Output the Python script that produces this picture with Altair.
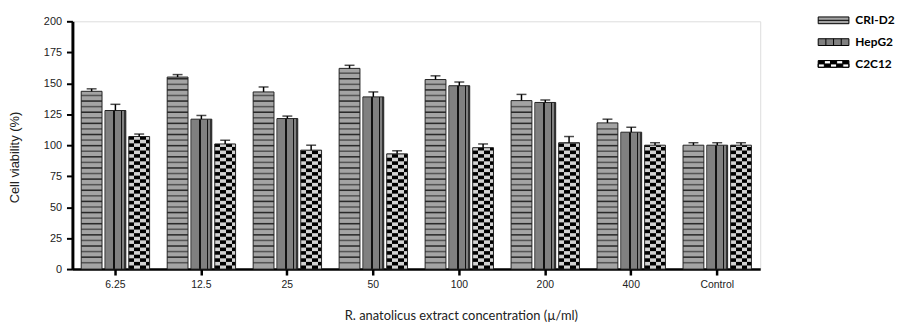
import altair as alt
import pandas as pd

categories = ["6.25", "12.5", "25", "50", "100", "200", "400", "Control"]
series = ["CRI-D2", "HepG2", "C2C12"]
cri = [143.5, 155, 143, 162, 153, 136, 118, 100]
cri_err = [2, 2, 4, 2.5, 3, 5, 3, 2]
hep = [128, 121, 121.5, 139, 148, 134.5, 110.5, 100]
hep_err = [5, 3, 2, 4, 3, 2, 4, 2]
c2c = [107, 101, 96, 93, 98, 102, 100, 100]
c2c_err = [2, 3, 4, 2.5, 3, 5, 2, 2]

rows = []
for s, vals, errs in [("CRI-D2", cri, cri_err), ("HepG2", hep, hep_err), ("C2C12", c2c, c2c_err)]:
    for c, v, e in zip(categories, vals, errs):
        rows.append({"cat": c, "series": s, "value": v, "hi": v + e})
df = pd.DataFrame(rows)

# pattern helpers derived from the bar values
STRIPE = 4.5
THICK = 1.25
stripes = []
for c, v in zip(categories, cri):
    k = 1
    while k * STRIPE + THICK < v - 0.5:
        stripes.append({"cat": c, "series": "CRI-D2", "y0": k * STRIPE, "y1": k * STRIPE + THICK, "par": k % 2})
        k += 1
df_str = pd.DataFrame(stripes)

CELL = 2.9
checks = []
for c, v in zip(categories, c2c):
    k = 0
    while k * CELL < v:
        checks.append({"cat": c, "series": "C2C12", "y0": k * CELL, "y1": min((k + 1) * CELL, v), "par": k % 2})
        k += 1
df_chk = pd.DataFrame(checks)

FONT = "Liberation Sans"
xsc = alt.Scale(domain=categories, paddingInner=0.17, paddingOuter=0.085)
osc = alt.Scale(domain=series, paddingInner=0.125, paddingOuter=0.0625)
ysc = alt.Scale(domain=[0, 200], nice=False)

X = alt.X("cat:N", scale=xsc, sort=categories,
          axis=alt.Axis(title="R. anatolicus extract concentration (µ/ml)", labelAngle=0,
                        labelFont=FONT, labelFontSize=10.5, labelColor="#222", labelPadding=5,
                        tickSize=6, tickWidth=2.5, tickColor="black", domainWidth=2.5, domainColor="black",
                        titleFont="Lato", titleFontSize=13, titleFontWeight="normal", titleColor="#222",
                        titleX=392, titleY=51, titleBaseline="alphabetic", titleAnchor="middle", titleAlign="center"))
XO = alt.XOffset("series:N", scale=osc)
yaxis = alt.Axis(title="Cell viability (%)", values=list(range(0, 201, 25)), tickCount=9, grid=False,
                 labelOverlap=False, labelFont=FONT, labelFontSize=11, labelColor="#222", labelPadding=5,
                 tickSize=6, tickWidth=2, tickColor="black", domainWidth=3, domainColor="black",
                 titleFont=FONT, titleFontSize=13, titleFontWeight="normal", titleColor="#222",
                 titleX=-58, titleY=137, titleBaseline="middle", titleAlign="center", titleAngle=-90)
Y = alt.Y("value:Q", scale=ysc, axis=yaxis)
Y0 = alt.Y("y0:Q", scale=ysc, axis=yaxis)
YH = alt.Y("hi:Q", scale=ysc, axis=yaxis)

base = alt.Chart(df)

cri_bar = base.transform_filter(alt.datum.series == "CRI-D2").mark_bar(fill="#a4a4a4").encode(x=X, xOffset=XO, y=Y)
cri_str0 = alt.Chart(df_str).transform_filter(alt.datum.par == 0).mark_bar(fill="#2a2a2a").encode(
    x=X, xOffset=XO, y=Y0, y2="y1:Q")
cri_str1 = alt.Chart(df_str).transform_filter(alt.datum.par == 1).mark_bar(fill="#555555").encode(
    x=X, xOffset=XO, y=Y0, y2="y1:Q")

hep_grad = alt.LinearGradient(gradient="linear", x1=0, x2=1, y1=0, y2=0, stops=[
    alt.GradientStop(color="#9a9a9a", offset=0.0),
    alt.GradientStop(color="#9a9a9a", offset=0.06),
    alt.GradientStop(color="#808080", offset=0.06),
    alt.GradientStop(color="#808080", offset=0.40),
    alt.GradientStop(color="#111111", offset=0.40),
    alt.GradientStop(color="#111111", offset=0.47),
    alt.GradientStop(color="#808080", offset=0.47),
    alt.GradientStop(color="#808080", offset=0.76),
    alt.GradientStop(color="#111111", offset=0.76),
    alt.GradientStop(color="#111111", offset=0.83),
    alt.GradientStop(color="#808080", offset=0.83),
    alt.GradientStop(color="#808080", offset=0.90),
    alt.GradientStop(color="#333333", offset=0.90),
    alt.GradientStop(color="#333333", offset=1.0),
])
hep_bar = base.transform_filter(alt.datum.series == "HepG2").mark_bar(fill=hep_grad).encode(x=X, xOffset=XO, y=Y)

c2c_bar = base.transform_filter(alt.datum.series == "C2C12").mark_bar(fill="#d2d2d2").encode(x=X, xOffset=XO, y=Y)


def checker(phase):
    cuts = [0.0, 0.27, 0.54, 0.81, 1.0]
    stops = []
    for i in range(4):
        col = "#000000" if (i + phase) % 2 == 0 else "rgba(0,0,0,0)"
        stops.append(alt.GradientStop(color=col, offset=cuts[i]))
        stops.append(alt.GradientStop(color=col, offset=cuts[i + 1]))
    return alt.LinearGradient(gradient="linear", x1=0, x2=1, y1=0, y2=0, stops=stops)


chk0 = alt.Chart(df_chk).transform_filter(alt.datum.par == 0).mark_bar(fill=checker(0)).encode(
    x=X, xOffset=XO, y=Y0, y2="y1:Q")
chk1 = alt.Chart(df_chk).transform_filter(alt.datum.par == 1).mark_bar(fill=checker(1)).encode(
    x=X, xOffset=XO, y=Y0, y2="y1:Q")

outline = base.mark_bar(fillOpacity=0, stroke="#222222", strokeWidth=1).encode(x=X, xOffset=XO, y=Y)

err = base.mark_rule(color="black", strokeWidth=1.5).encode(x=X, xOffset=XO, y=Y, y2="hi:Q")
cap = base.mark_tick(color="black", size=10, thickness=1.5).encode(x=X, xOffset=XO, y=YH)

paths = [
    "M-1,-0.22H1V0.22H-1Z M-1,0H1",
    "M-1,-0.22H1V0.22H-1Z M-0.5,-0.22V0.22 M0,-0.22V0.22 M0.5,-0.22V0.22",
    "M-1,-0.22H1V0.22H-1Z M-0.6,-0.22V0H-0.2V-0.22Z M0.2,-0.22V0H0.6V-0.22Z "
    "M-1,0V0.22H-0.6V0Z M-0.2,0V0.22H0.2V0Z M0.6,0V0.22H1V0Z",
]
leg = alt.Legend(title=None, orient="none", legendX=752, legendY=-17, symbolSize=961,
                 symbolStrokeColor="black", symbolStrokeWidth=1,
                 labelFont="Lato", labelFontSize=12, labelFontWeight="bold", labelColor="black",
                 labelOffset=6, rowPadding=-9)
legend_layer = alt.Chart(pd.DataFrame({"series": series})).mark_point(
    filled=True, stroke="black", strokeWidth=1, opacity=1).encode(
    x=alt.value(-600), y=alt.value(-600),
    color=alt.Color("series:N", scale=alt.Scale(domain=series, range=["#a4a4a4", "#808080", "#000000"]), legend=leg),
    shape=alt.Shape("series:N", scale=alt.Scale(domain=series, range=paths), legend=leg),
)

chart = alt.layer(cri_bar, cri_str0, cri_str1, hep_bar, c2c_bar, chk0, chk1, outline, err, cap, legend_layer).properties(
    width=694, height=250, autosize=alt.AutoSizeParams(type="none"),
    padding={"left": 65, "top": 12, "right": 136, "bottom": 56},
).configure_view(stroke=None).configure(background="white")

chart.save("out.html", embed_options={"renderer": "svg", "actions": False})
